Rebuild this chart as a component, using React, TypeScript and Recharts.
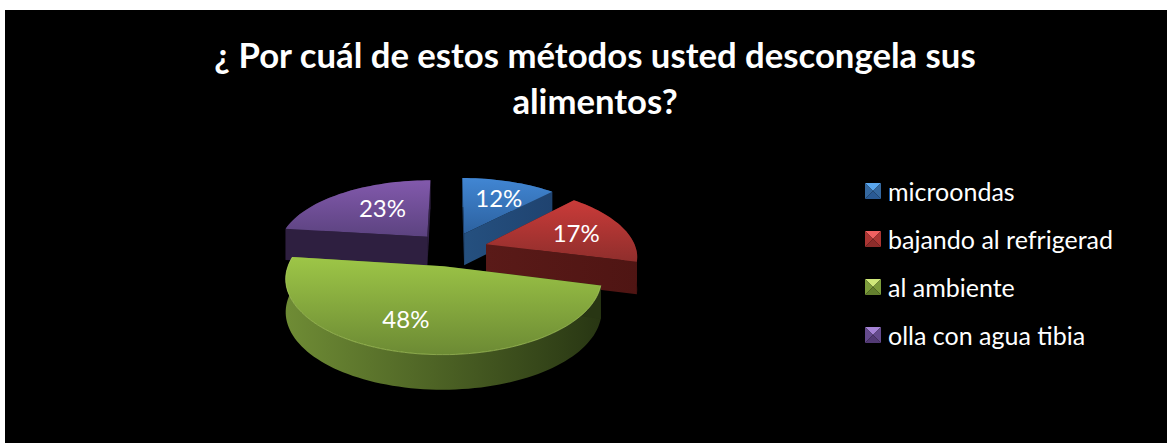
import React from 'react';
import { PieChart, Pie, Legend } from 'recharts';

const titleLines = ['¿ Por cuál de estos métodos usted descongela sus', 'alimentos?'];
const categories = ['microondas', 'bajando al refrigerad', 'al ambiente', 'olla con agua tibia'];
const values = [12, 17, 48, 23];

// Draw order is back to front, so the last slice of the circle goes first.
const drawOrder = [3, 0, 1, 2];

const topColors = [['#4186d3', '#2c619f'], ['#ca3b39', '#8f2e2c'], ['#9dc647', '#6c8a34'], ['#8259ac', '#5c4380']];
const wallColors = [['#25507f', '#1f4370'], ['#5a1a18', '#4f1513'], ['#6f8c35', '#283613'], ['#35244a', '#2e1f40']];
const markerColors = [
  ['#5aa6ee', '#35689f', '#2a5a94'],
  ['#f06060', '#ab3533', '#8c2c2a'],
  ['#cfe87a', '#7c9c3b', '#64802f'],
  ['#a583d6', '#644a8c', '#523a74'],
];
const labelNudge = [[4, -1], [1, 0], [-16, -1], [12, 0]];

const W = 1162;
const H = 433;
const TILT = 0.458;
const PERSPECTIVE = 0.155;
const EXPLODE = 0.246;
const RAD = Math.PI / 180;
const FONT = 'Lato, sans-serif';

const rows = drawOrder.map((i) => ({ name: categories[i], value: values[i] }));
const startDeg = 90 + (values[3] / 100) * 360;

type Pt = [number, number];

function projector(cx: number, cy: number, R: number, midAngle: number) {
  const t = (90 - midAngle) * RAD;
  const au = EXPLODE * Math.sin(t);
  const av = -EXPLODE * Math.cos(t);
  return (angle: number, r: number, lower: boolean): Pt => {
    const th = (90 - angle) * RAD;
    const u = au + r * Math.sin(th);
    const v = av - r * Math.cos(th);
    const s = 1 / (1 - PERSPECTIVE * v);
    const depth = lower ? 32 + 2.5 * v : 0;
    return [cx + R * u * s, cy + R * TILT * v * s + depth];
  };
}

const toPath = (pts: Pt[]) => 'M' + pts.map((p) => `${p[0].toFixed(1)},${p[1].toFixed(1)}`).join('L') + 'Z';

function Slice3D(props: any) {
  const { cx, cy, outerRadius, startAngle, endAngle, name } = props;
  const idx = categories.indexOf(name ?? props.payload?.name);
  const mid = (startAngle + endAngle) / 2;
  const p = projector(cx, cy, outerRadius, mid);
  const arcAngles: number[] = [];
  const n = Math.ceil(Math.abs(endAngle - startAngle) / 2);
  for (let i = 0; i <= n; i++) arcAngles.push(startAngle + ((endAngle - startAngle) * i) / n);
  const topArc = arcAngles.map((a) => p(a, 1, false));
  const lowArc = arcAngles.map((a) => p(a, 1, true));
  const top = toPath([p(mid, 0, false), ...topArc]);
  const rim = toPath([...topArc, ...lowArc.slice().reverse()]);
  const wallStart = toPath([p(mid, 0, false), p(startAngle, 1, false), p(startAngle, 1, true), p(mid, 0, true)]);
  const wallEnd = toPath([p(mid, 0, false), p(endAngle, 1, false), p(endAngle, 1, true), p(mid, 0, true)]);
  const topId = `slice-top-${idx}`;
  const wallId = `slice-wall-${idx}`;
  const arcLine = 'M' + topArc.map((q) => `${q[0].toFixed(1)},${q[1].toFixed(1)}`).join('L');
  return (
    <g>
      <defs>
        <linearGradient id={topId} x1="0" y1="0" x2="0" y2="1">
          <stop offset="0" stopColor={topColors[idx][0]} />
          <stop offset="1" stopColor={topColors[idx][1]} />
        </linearGradient>
        <linearGradient id={wallId} x1="0" y1="0" x2="1" y2="0">
          <stop offset="0" stopColor={wallColors[idx][0]} />
          <stop offset="1" stopColor={wallColors[idx][1]} />
        </linearGradient>
      </defs>
      <path d={rim} fill={`url(#${wallId})`} />
      <path d={wallStart} fill={wallColors[idx][1]} />
      <path d={wallEnd} fill={`url(#${wallId})`} />
      <path d={top} fill={`url(#${topId})`} />
      {idx === 2 && <path d={arcLine} fill="none" stroke="#b5d768" strokeWidth={1} strokeOpacity={0.6} />}
    </g>
  );
}

function sliceLabel(props: any) {
  const { cx, cy, outerRadius, midAngle, name, value } = props;
  const idx = categories.indexOf(name ?? props.payload?.name);
  const [x, y] = projector(cx, cy, outerRadius, midAngle)(midAngle, 0.65, false);
  return (
    <text x={x + labelNudge[idx][0]} y={y + labelNudge[idx][1]} fill="#fff" fontFamily={FONT} fontSize={24}
      textAnchor="middle" dominantBaseline="central">
      {`${value}%`}
    </text>
  );
}

function Marker({ colors }: { colors: string[] }) {
  return (
    <svg width={16} height={16} style={{ display: 'block', flex: 'none' }}>
      <polygon points="0,0 16,0 8,8" fill={colors[0]} />
      <polygon points="0,0 8,8 0,16" fill={colors[1]} />
      <polygon points="16,0 8,8 16,16" fill={colors[1]} />
      <polygon points="0,16 8,8 16,16" fill={colors[2]} />
    </svg>
  );
}

function LegendList() {
  return (
    <div>
      {categories.map((c, i) => (
        <div key={c} style={{ display: 'flex', alignItems: 'center', height: 48, color: '#fff', fontFamily: FONT, fontSize: 25, whiteSpace: 'nowrap' }}>
          <Marker colors={markerColors[i]} />
          <span style={{ marginLeft: 7 }}>{c}</span>
        </div>
      ))}
    </div>
  );
}

export default function App() {
  return (
    <div style={{ position: 'fixed', left: 0, top: 0, width: 1167, height: 443, background: '#fff', overflow: 'hidden' }}>
      <div style={{ position: 'absolute', left: 5, top: 10, width: W, height: H, background: '#000' }}>
        <PieChart width={W} height={H} margin={{ top: 0, right: 0, bottom: 0, left: 0 }}>
          <text x={590} y={58} textAnchor="middle" fill="#fff" fontFamily={FONT} fontWeight={700} fontSize={34.7}>{titleLines[0]}</text>
          <text x={590} y={104} textAnchor="middle" fill="#fff" fontFamily={FONT} fontWeight={700} fontSize={34.7}>{titleLines[1]}</text>
          <Pie
            data={rows}
            dataKey="value"
            nameKey="name"
            cx={446}
            cy={239}
            innerRadius={0}
            outerRadius={150}
            startAngle={startDeg}
            endAngle={startDeg - 360}
            stroke="none"
            shape={Slice3D}
            label={sliceLabel}
            labelLine={false}
            isAnimationActive={false}
          />
          <Legend content={<LegendList />} layout="vertical" wrapperStyle={{ left: 860, top: 157, width: 290 }} />
        </PieChart>
      </div>
    </div>
  );
}
